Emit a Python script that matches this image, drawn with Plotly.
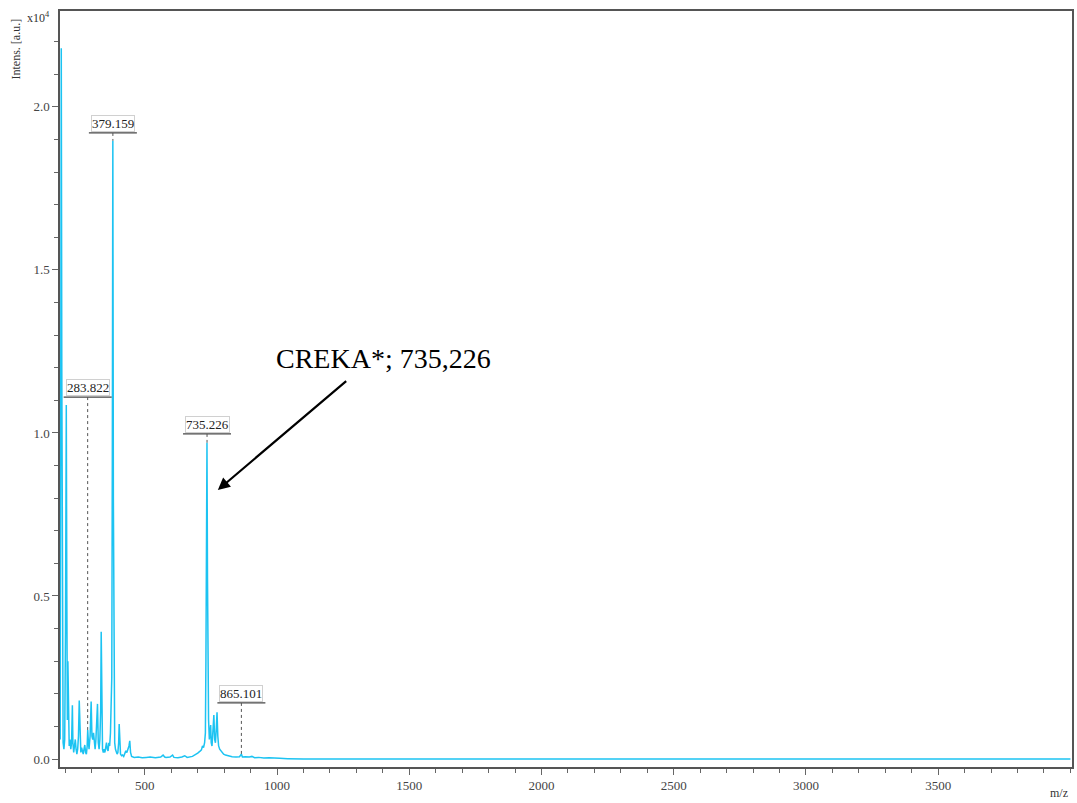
import plotly.graph_objects as go

# ---- spectrum data (m/z, intensity in units of 1e4 a.u.) ----
mz = [180, 182, 184, 186, 188, 191, 194, 197, 200, 203, 205, 207, 209, 211, 214, 217, 220, 223,
      226, 228, 231, 234, 237, 240, 243, 246, 249, 252, 255, 258, 261, 264, 267, 270, 273, 276,
      279, 282, 284, 286, 289, 293, 297, 300, 303, 306, 309, 312, 315, 318, 321, 324, 327, 330,
      333, 335, 337, 340, 343, 346, 349, 352, 355, 358, 361, 364, 367, 370, 373, 375, 377, 379,
      381, 383, 386, 389, 392, 395, 398, 401, 403, 405, 408, 412, 416, 420, 424, 428, 432, 436,
      440, 443, 446, 450, 460, 475, 490, 505, 520, 540, 560, 569, 575, 580, 595, 605, 610, 625,
      640, 651, 660, 680, 690, 700, 710, 714, 718, 722, 726, 729, 731, 733, 735, 737, 739, 741,
      744, 747, 749, 751, 754, 757, 761, 764, 767, 770, 773, 776, 779, 783, 787, 792, 798, 805,
      812, 820, 830, 845, 858, 865, 869, 880, 895, 905, 915, 930, 950, 970, 990, 1010, 1040,
      1100, 1500, 2000, 2500, 3000, 3500, 4000]
intensity = [0.06, 0.9, 2.18, 1.2, 0.15, 0.05, 0.03, 0.06, 0.4, 1.086, 0.5, 0.12, 0.30, 0.08, 0.04,
             0.06, 0.03, 0.05, 0.165, 0.05, 0.02, 0.04, 0.06, 0.03, 0.015, 0.03, 0.07, 0.179, 0.06,
             0.02, 0.035, 0.02, 0.015, 0.03, 0.043, 0.02, 0.015, 0.04, 0.089, 0.06, 0.03, 0.07,
             0.176, 0.07, 0.06, 0.08, 0.04, 0.03, 0.06, 0.12, 0.169, 0.05, 0.03, 0.06, 0.15, 0.39,
             0.1, 0.03, 0.02, 0.03, 0.02, 0.04, 0.05, 0.03, 0.025, 0.05, 0.04, 0.08, 0.19, 0.25,
             0.9, 1.896, 0.8, 0.12, 0.05, 0.03, 0.02, 0.015, 0.02, 0.05, 0.107, 0.04, 0.015, 0.01,
             0.012, 0.008, 0.015, 0.025, 0.02, 0.03, 0.04, 0.056, 0.02, 0.008, 0.005, 0.006, 0.004,
             0.005, 0.006, 0.004, 0.006, 0.012, 0.006, 0.005, 0.006, 0.012, 0.005, 0.004, 0.006,
             0.01, 0.005, 0.008, 0.012, 0.018, 0.025, 0.028, 0.04, 0.035, 0.05, 0.08, 0.3, 0.7,
             0.97, 0.55, 0.2, 0.12, 0.06, 0.08, 0.104, 0.05, 0.04, 0.08, 0.135, 0.06, 0.05, 0.09,
             0.143, 0.07, 0.04, 0.03, 0.025, 0.02, 0.015, 0.012, 0.01, 0.008, 0.007, 0.006, 0.007,
             0.015, 0.006, 0.007, 0.006, 0.008, 0.004, 0.005, 0.003, 0.004, 0.002, 0.002, 0.001,
             0.0, 0.0, 0.0, 0.0, 0.0, 0.0, 0.0]

# peak labels
label_mz = [283.822, 379.159, 735.226, 865.101]
label_text = ["283.822", "379.159", "735.226", "865.101"]
peak_top = [0.089, 1.896, 0.97, 0.015]
label_height = [1.11, 1.92, 0.997, 0.172]

x_ticks = [500, 1000, 1500, 2000, 2500, 3000, 3500]
y_ticks = [0.0, 0.5, 1.0, 1.5, 2.0]

SERIF = "Liberation Serif"
fig = go.Figure()
fig.add_trace(go.Scatter(x=mz, y=intensity, mode="lines",
                         line=dict(color="#1cc3f2", width=1.5), hoverinfo="skip",
                         showlegend=False))

shapes = []
annotations = []
for m, t, top, h in zip(label_mz, label_text, peak_top, label_height):
    annotations.append(dict(x=m, y=h, xref="x", yref="y", text=t, showarrow=False,
                            yanchor="bottom", xanchor="center", yshift=1,
                            font=dict(family=SERIF, size=13, color="#222"),
                            bgcolor="white", bordercolor="#d0d0d0", borderwidth=1, borderpad=0))
    shapes.append(dict(type="line", xref="x", yref="y", xsizemode="pixel", xanchor=m,
                       x0=-24, x1=24, y0=h, y1=h, line=dict(color="#444", width=1.2)))
    shapes.append(dict(type="line", xref="x", yref="y", x0=m, x1=m, y0=h, y1=top,
                       line=dict(color="#555", width=1, dash="dot")))

# main callout
annotations.append(dict(x=776, y=0.825, xref="x", yref="y", ax=1267, ay=1.163,
                        axref="x", ayref="y", text="", showarrow=True,
                        arrowhead=2, arrowsize=1.1, arrowwidth=2.2, arrowcolor="black"))
annotations.append(dict(x=1403, y=1.229, xref="x", yref="y", text="CREKA*; 735,226",
                        showarrow=False, xanchor="center", yanchor="middle",
                        font=dict(family=SERIF, size=28, color="black")))
# axis titles
annotations.append(dict(x=0, y=1, xref="paper", yref="paper", text="Intens. [a.u.]",
                        textangle=-90, showarrow=False, xanchor="center", yanchor="top",
                        xshift=-45, yshift=-6, font=dict(family=SERIF, size=12, color="#333")))
annotations.append(dict(x=0, y=1, xref="paper", yref="paper", text="x10<sup>4</sup>",
                        showarrow=False, xanchor="right", yanchor="middle",
                        xshift=-8, yshift=-6, font=dict(family=SERIF, size=12, color="#333")))
annotations.append(dict(x=1, y=0, xref="paper", yref="paper", text="m/z",
                        showarrow=False, xanchor="right", yanchor="middle",
                        xshift=-2, yshift=-26, font=dict(family=SERIF, size=12, color="#333")))

fig.update_layout(
    width=1077, height=803,
    margin=dict(l=60, r=3, t=11, b=36),
    paper_bgcolor="white", plot_bgcolor="white",
    shapes=shapes, annotations=annotations,
    xaxis=dict(range=[179.2, 4006], tickvals=x_ticks, ticks="outside", ticklen=6,
               tickcolor="#666", showgrid=False, zeroline=False, showline=True,
               linecolor="#555", linewidth=1.5, mirror=True,
               tickfont=dict(family=SERIF, size=13, color="#444"),
               minor=dict(dtick=100, tick0=0, ticks="outside", ticklen=4, tickcolor="#666")),
    yaxis=dict(range=[-0.0245, 2.294], tickvals=y_ticks, tickformat=".1f", ticks="outside",
               ticklen=6, tickcolor="#666", showgrid=False, zeroline=False, showline=True,
               linecolor="#555", linewidth=1.5, mirror=True,
               tickfont=dict(family=SERIF, size=13, color="#444"),
               minor=dict(dtick=0.1, tick0=0, ticks="outside", ticklen=4, tickcolor="#666")),
)

# remove the default page margin so the 1077x803 figure fills the window exactly
fig.write_html("out.html", config={"displayModeBar": False},
               post_script="document.body.style.margin='0';document.body.style.overflow='hidden';")
